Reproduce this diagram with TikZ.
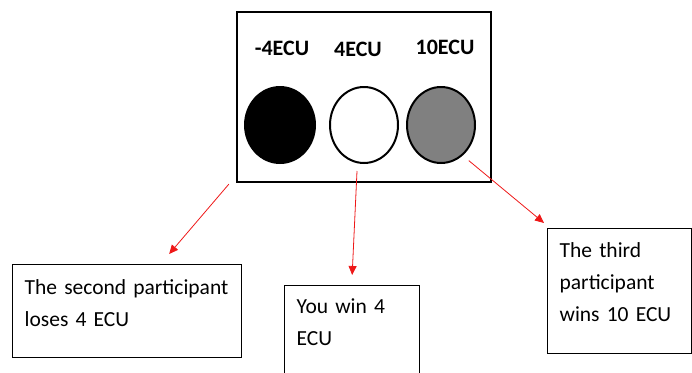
\documentclass[tikz,border=0pt]{standalone}
\usepackage{fontspec}
\setmainfont{Carlito}
\usetikzlibrary{arrows.meta,positioning,shapes.geometric}
\definecolor{arrowred}{RGB}{238,24,24}
\definecolor{chipgray}{RGB}{128,128,128}

\begin{document}
\begin{tikzpicture}[x=1pt, y=-1pt,
  panel/.style={draw, line width=2.4pt, minimum width=254pt, minimum height=170pt, inner sep=0pt},
  chip/.style={draw, ellipse, line width=2pt, minimum width=68pt, minimum height=76pt, inner sep=0pt},
  payoff/.style={font=\fontsize{22}{26}\selectfont\bfseries, anchor=base, inner sep=0pt},
  outbox/.style={draw, line width=1.3pt, anchor=north west, align=left, inner xsep=12pt,
                 inner ysep=0pt, font=\fontsize{21.5}{32}\selectfont},
  arr/.style={-{Triangle[length=9pt,width=8pt]}, line width=0.8pt, color=arrowred}]
\useasboundingbox (0,0) rectangle (692,372);
% panel with the three chips
\node[panel] (panel) at (364,97) {};
\node[chip, fill=black, minimum width=70pt] (lossc) at (280,125) {};
\node[chip, fill=white] (winc) at (364,125) {};
\node[chip, fill=chipgray] (thirdc) at (441,125) {};
\node[payoff] (lossl) at (282,55) {-4ECU};
\node[payoff] (winl) at (358,56) {4ECU};
\node[payoff] (thirdl) at (445,54) {10ECU};
% outcome boxes
\node[outbox, text width=205pt, text height=30pt, text depth=63pt] (lose) at (12,264)
  {\mbox{The second participant}\\loses 4 ECU};
\node[outbox, text width=111pt, text height=28pt, text depth=67pt] (you) at (284,285)
  {You win 4\\ECU};
\node[outbox, text width=120pt, text height=29pt, text depth=96pt] (third) at (547,228)
  {The third\\participant\\wins 10 ECU};
% arrows
\draw[arr] ([xshift=-7pt,yshift=-1pt]panel.south west) -- ([xshift=42pt,yshift=10pt]lose.north);
\draw[arr] ([xshift=-7pt,yshift=-7pt]winc.south) -- ([yshift=10pt]you.north);
\draw[arr] ([xshift=3pt,yshift=-8pt]thirdc.south east) -- ([xshift=-3pt,yshift=5pt]third.north west);
\end{tikzpicture}
\end{document}
